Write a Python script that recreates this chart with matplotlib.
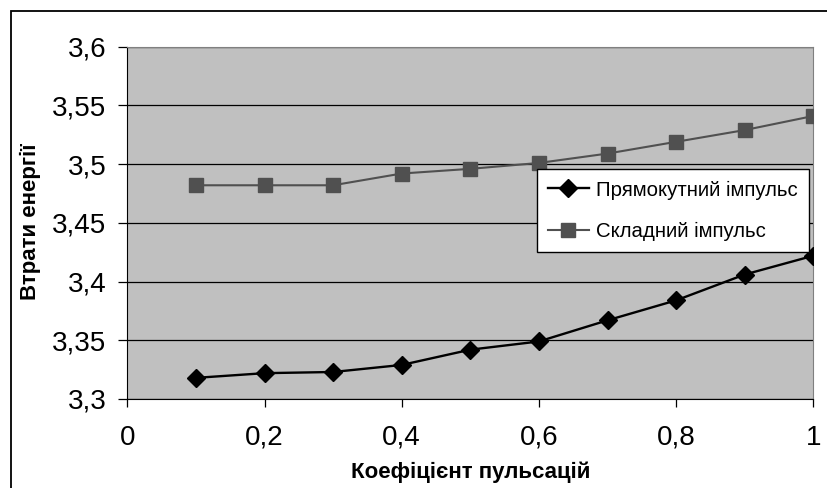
import matplotlib
matplotlib.use("Agg")
import matplotlib.pyplot as plt
from matplotlib.patches import Rectangle
from matplotlib.ticker import FuncFormatter

plt.rcParams["font.family"] = ["Liberation Sans", "DejaVu Sans"]

# ── data ─────────────────────────────────────────────────────────────
x_vals = [0.1, 0.2, 0.3, 0.4, 0.5, 0.6, 0.7, 0.8, 0.9, 1.0]
rect_pulse = [3.318, 3.322, 3.323, 3.329, 3.342, 3.349, 3.367, 3.384, 3.406, 3.422]
complex_pulse = [3.482, 3.482, 3.482, 3.492, 3.496, 3.501, 3.509, 3.519, 3.529, 3.541]
series_names = ["Прямокутний імпульс", "Складний імпульс"]
x_ticks = [0, 0.2, 0.4, 0.6, 0.8, 1.0]
y_ticks = [3.3, 3.35, 3.4, 3.45, 3.5, 3.55, 3.6]
x_label = "Коефіцієнт пульсацій"
y_label = "Втрати енергії"

W, H = 827, 488
fig = plt.figure(figsize=(W/100, H/100), dpi=100, facecolor="white")
# outer chart frame (cropped on right/bottom like the scanned page)
fig.patches.append(Rectangle((11/W, -0.05), 1.0, (H-11)/H + 0.05, transform=fig.transFigure,
                             fill=False, edgecolor="black", linewidth=1.3, zorder=0))

ax = fig.add_axes([127.3/W, 89/H, 686/W, 352.3/H])
ax.set_facecolor("#C0C0C0")
ax.plot(x_vals, rect_pulse, "-D", color="black", lw=1.7, ms=9, label=series_names[0], zorder=3)
ax.plot(x_vals, complex_pulse, "-s", color="#505050", lw=1.5, ms=10, label=series_names[1], zorder=3)

ax.set_xlim(0, 1); ax.set_ylim(3.3, 3.6)
ax.set_xticks(x_ticks); ax.set_yticks(y_ticks)
comma = FuncFormatter(lambda v, _: (f"{v:g}").replace(".", ","))
ax.xaxis.set_major_formatter(comma); ax.yaxis.set_major_formatter(comma)
ax.yaxis.grid(True, color="black", linewidth=0.9)
ax.set_axisbelow(True)
ax.tick_params(axis="both", direction="out", width=0.9, color="black", labelsize=20)
ax.tick_params(axis="x", length=5.4, pad=13)
ax.tick_params(axis="y", length=6.5, pad=8.5)
for s in ["top", "right"]:
    ax.spines[s].set_color("#808080")
for s in ["left", "bottom"]:
    ax.spines[s].set_color("black")

ax.set_xlabel(x_label, fontsize=16, fontweight="bold", labelpad=8)
fig.text(30/W, 1 - 221.5/H, y_label, rotation=90, ha="center", va="center",
         fontsize=16, fontweight="bold")

leg = ax.legend(loc="upper left", bbox_to_anchor=(0.5968, 0.652), borderaxespad=0, fontsize=14.7,
                frameon=True, fancybox=False, framealpha=1, edgecolor="black", handlelength=2.0,
                handletextpad=0.35, labelspacing=1.1, borderpad=0.55)
leg.get_frame().set_linewidth(1)
leg.set_zorder(5)

fig.savefig("out.png", dpi=100, facecolor="white")
